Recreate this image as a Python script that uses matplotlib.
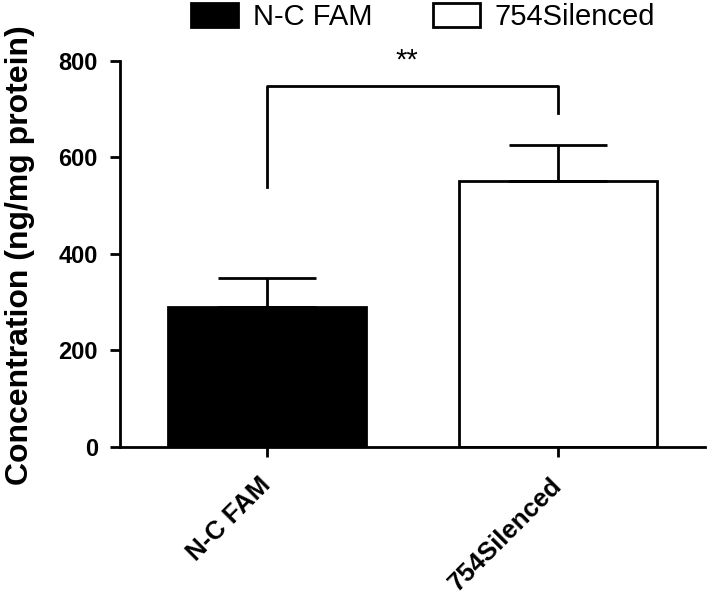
import numpy as np
import matplotlib
matplotlib.use('Agg')
import matplotlib.pyplot as plt
from matplotlib.patches import Patch

plt.rcParams['font.family'] = ['Liberation Sans', 'DejaVu Sans']

groups = ['N-C FAM', '754Silenced']
means = [290, 550]
errors = [60, 75]
colors = ['black', 'white']
bracket_y = [539, 748, 748, 691]
sig_label = '**'
y_ticks = [0, 200, 400, 600, 800]


def main():
    fig = plt.figure(figsize=(7.09, 5.99), dpi=100)
    ax = fig.add_axes([0.1693, 0.2538, 0.8251, 0.6449])

    x = np.arange(len(groups))
    ax.bar(x, means, width=0.68, color=colors, edgecolor='black', linewidth=2)
    ax.errorbar(x, means, yerr=[np.zeros(len(errors)), errors], fmt='none',
                ecolor='black', elinewidth=2, capsize=35, capthick=2)

    # significance bracket
    ax.plot([0, 0, 1, 1], bracket_y, color='black', lw=2, clip_on=False)
    ax.text(0.48, 800, sig_label, ha='center', va='center', fontsize=21, clip_on=False)

    ax.set_xlim(-0.505, 1.505)
    ax.set_ylim(0, 800)
    ax.set_yticks(y_ticks)
    ax.set_xticks(x)
    ax.set_xticklabels(groups, rotation=45, ha='right', va='center', rotation_mode='anchor',
                       fontsize=18.5, fontweight='bold')
    for lab in ax.get_yticklabels():
        lab.set_fontsize(17)
        lab.set_fontweight('bold')
    ax.tick_params(axis='both', direction='out', length=7, width=2)
    ax.tick_params(axis='y', pad=9)
    ax.tick_params(axis='x', pad=18)

    for side in ['top', 'right']:
        ax.spines[side].set_visible(False)
    for side in ['left', 'bottom']:
        ax.spines[side].set_linewidth(2)

    ax.set_ylabel('Concentration (ng/mg protein)', fontsize=23, fontweight='bold')
    ax.yaxis.set_label_coords(-0.145, 0.497)

    handles = [Patch(facecolor=c, edgecolor='black', linewidth=2) for c in colors]
    fig.legend(handles, groups, loc='upper center', bbox_to_anchor=(0.597, 0.995),
               ncol=2, frameon=False, fontsize=21, handlelength=1.6, handleheight=0.85,
               handletextpad=0.5, columnspacing=2.1, borderaxespad=0, borderpad=0)

    fig.savefig('out.png', dpi=100)
    plt.close('all')


if __name__ == "__main__":
    main()
